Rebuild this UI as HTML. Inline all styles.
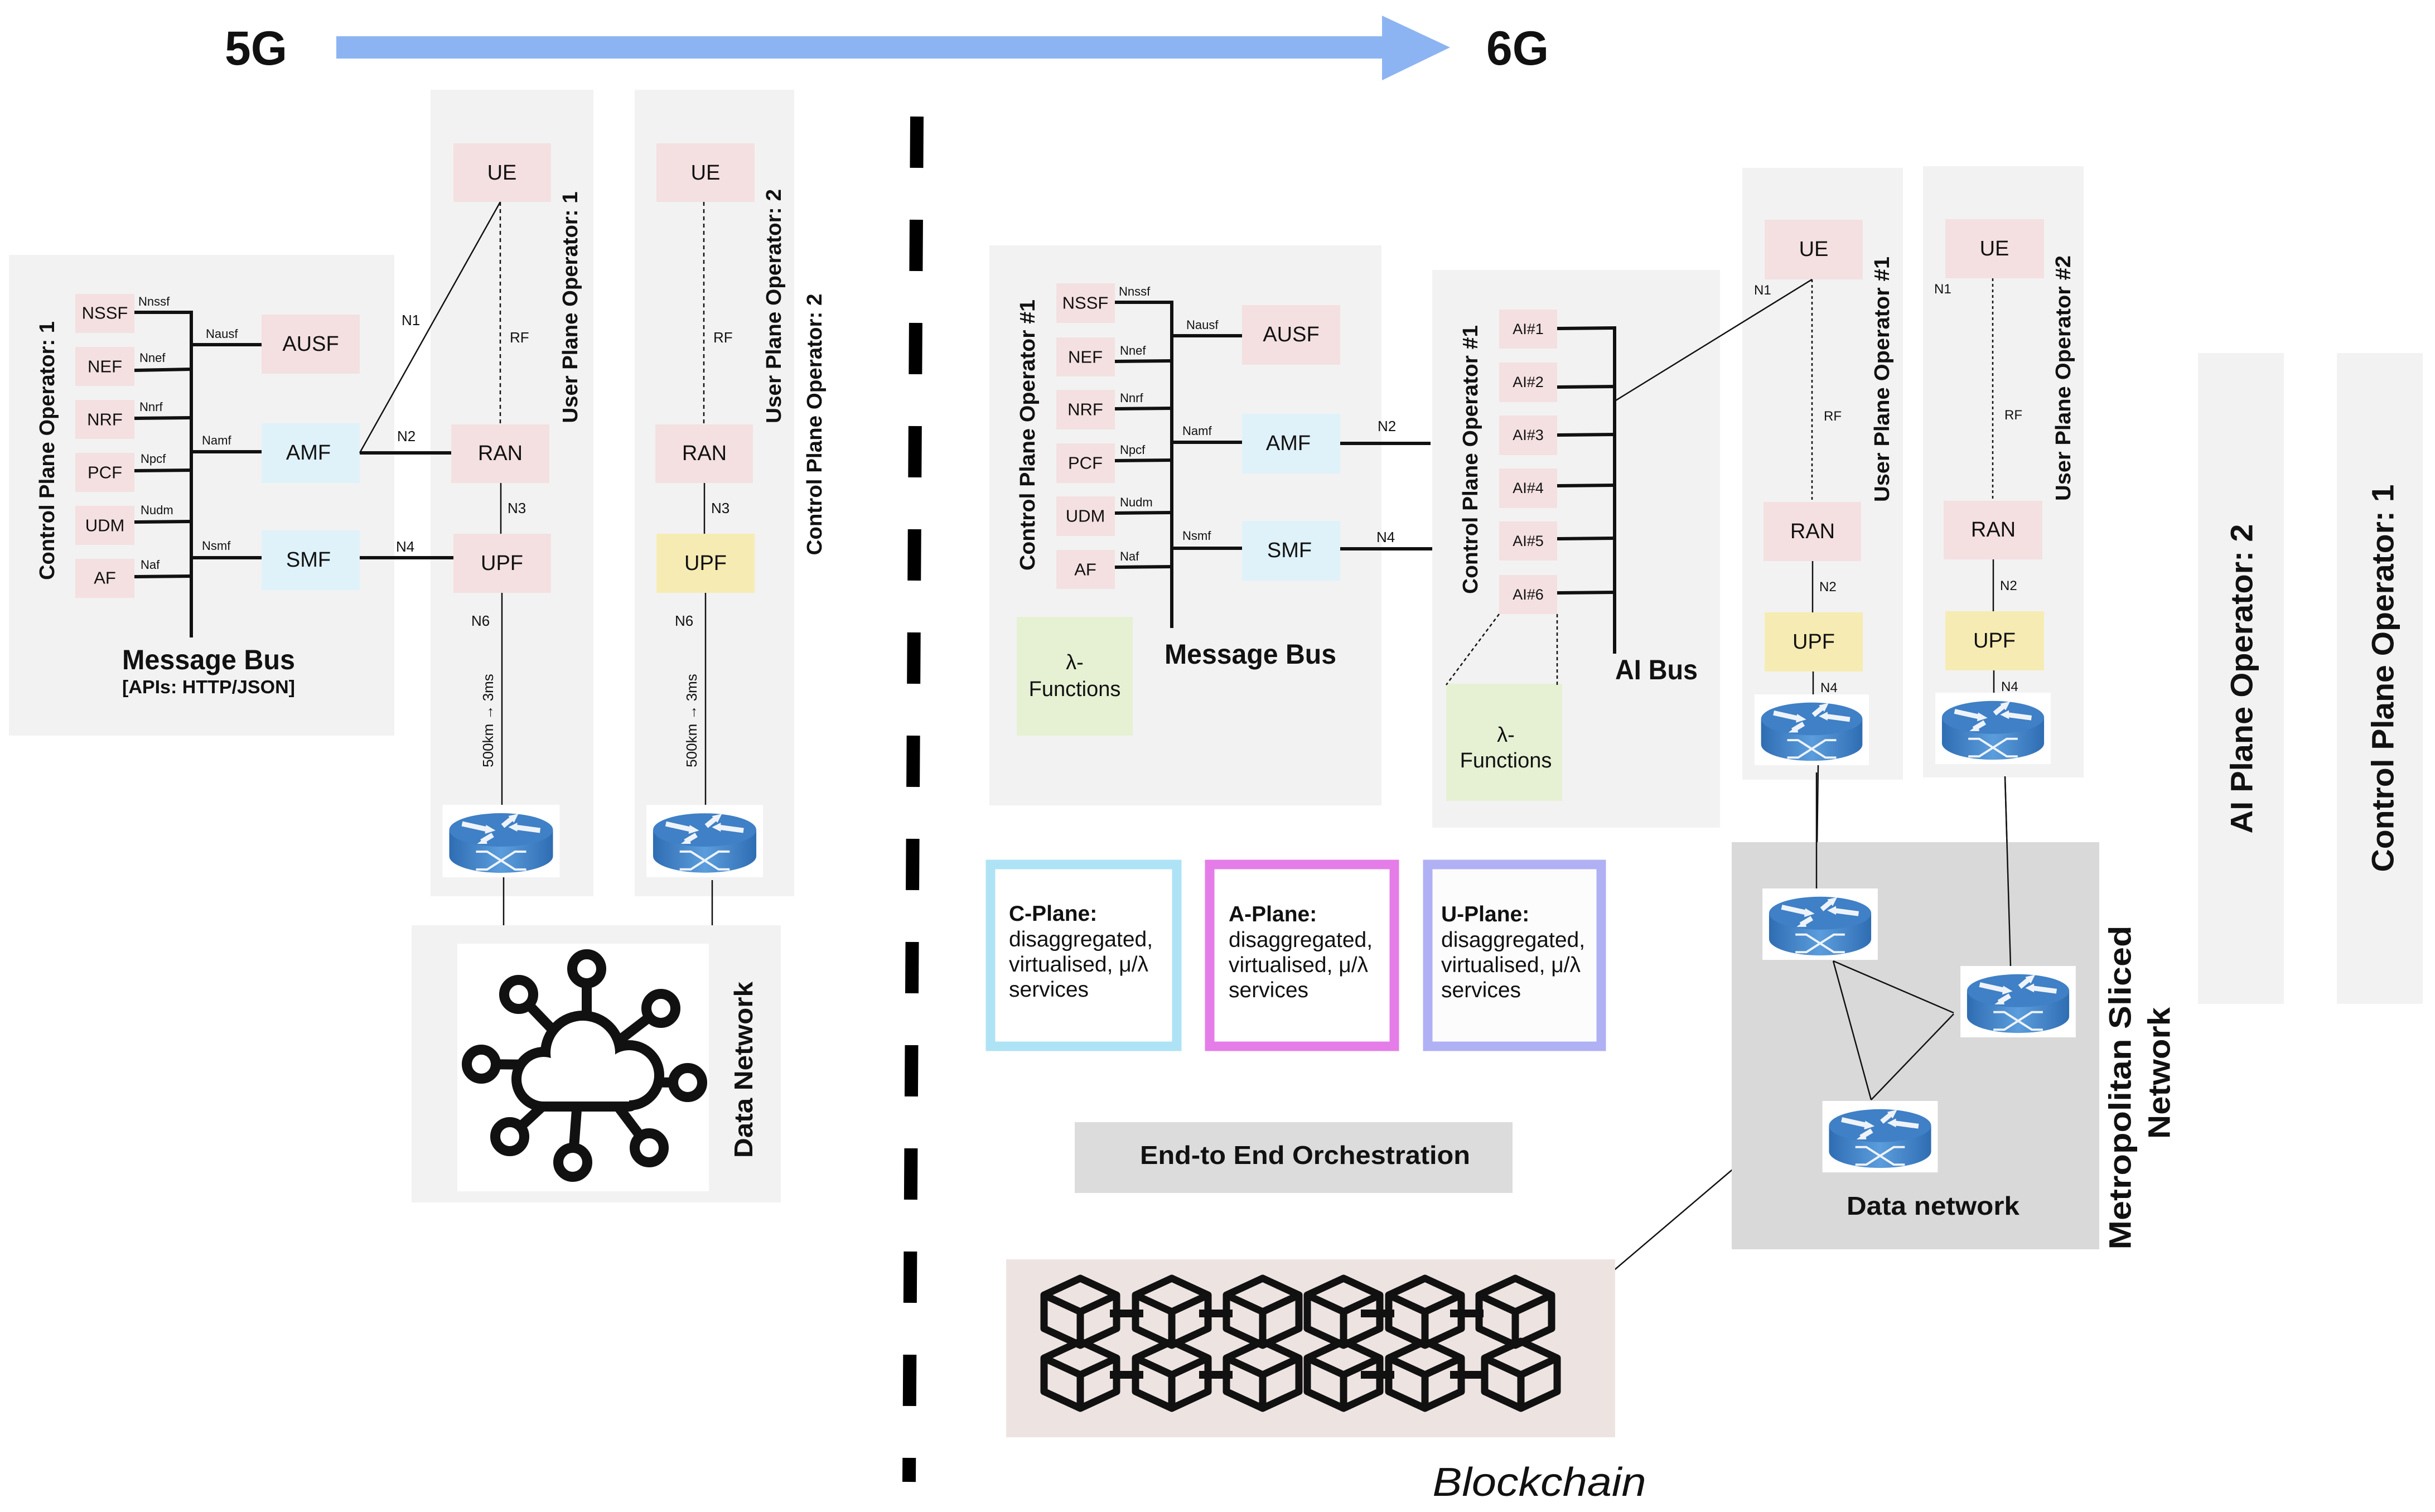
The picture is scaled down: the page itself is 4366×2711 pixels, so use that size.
<!DOCTYPE html>
<html><head><meta charset="utf-8"><style>
html,body{margin:0;padding:0;background:#fff}
svg{display:block}
text{font-family:"Liberation Sans",sans-serif;fill:#111}
.b{font-weight:bold}
</style></head><body>
<svg width="4366" height="2711" viewBox="0 0 4366 2711" xmlns="http://www.w3.org/2000/svg">
<defs>
<linearGradient id="rg" x1="0" x2="1" y1="0" y2="0">
<stop offset="0" stop-color="#2f6db3"/><stop offset="0.5" stop-color="#5b9ddc"/><stop offset="1" stop-color="#2f6db3"/>
</linearGradient>
<symbol id="router" viewBox="0 0 210 130">
<rect x="0" y="0" width="210" height="130" fill="#fff"/>
<path d="M12,45 L12,92 A93,30 0 0 0 198,92 L198,45 Z" fill="url(#rg)"/>
<ellipse cx="105" cy="45" rx="93" ry="30" fill="#3f80c6"/>
<g stroke="#eef3fa" stroke-width="9" stroke-linecap="butt">
<line x1="35" y1="34" x2="80" y2="44"/><line x1="108" y1="38" x2="125" y2="24"/>
<line x1="175" y1="46" x2="130" y2="40"/><line x1="90" y1="54" x2="70" y2="66"/>
</g>
<g fill="#eef3fa">
<polygon points="78,36 95,46 76,52"/><polygon points="118,20 136,16 128,32"/>
<polygon points="134,32 118,40 134,48"/><polygon points="78,58 62,70 80,70"/>
</g>
<g stroke="#eef3fa" stroke-width="4" fill="none">
<path d="M60,84 H80 L130,116 H150"/><path d="M60,116 H80 L130,84 H150"/>
</g>
</symbol>
<symbol id="cube" viewBox="-10 -10 150 140">
<g fill="none" stroke="#111" stroke-width="13" stroke-linejoin="round">
<polygon points="65,0 130,30 130,90 65,120 0,90 0,30"/>
<polyline points="0,30 65,60 130,30"/><line x1="65" y1="60" x2="65" y2="120"/>
</g>
</symbol>
</defs>

<!-- header -->
<text x="403" y="116" class="b" font-size="86" textLength="112" lengthAdjust="spacingAndGlyphs">5G</text>
<rect x="603" y="65" width="1880" height="40" fill="#8db4f2"/>
<polygon points="2478,28 2600,85 2478,144" fill="#8db4f2"/>
<text x="2665" y="116" class="b" font-size="86" textLength="112" lengthAdjust="spacingAndGlyphs">6G</text>

<!-- divider -->
<line x1="1644" y1="209" x2="1630" y2="2657" stroke="#000" stroke-width="24" stroke-dasharray="92 93"/>

<!-- ===== 5G ===== -->
<rect x="16" y="457" width="691" height="862" fill="#f2f2f2"/>
<rect x="772" y="161" width="292" height="1446" fill="#f2f2f2"/>
<rect x="1138" y="161" width="286" height="1446" fill="#f2f2f2"/>
<text transform="translate(85,808) rotate(-90)" text-anchor="middle" dominant-baseline="central" class="b" font-size="38" textLength="464" lengthAdjust="spacingAndGlyphs">Control Plane Operator: 1</text>

<g fill="#f4e0e1">
<rect x="135" y="527" width="106" height="70"/><rect x="135" y="622" width="106" height="70"/>
<rect x="135" y="717" width="106" height="70"/><rect x="135" y="812" width="106" height="70"/>
<rect x="135" y="907" width="106" height="70"/><rect x="135" y="1002" width="106" height="70"/>
<rect x="469" y="564" width="176" height="106"/>
<rect x="813" y="257" width="175" height="105"/><rect x="809" y="761" width="176" height="105"/>
<rect x="813" y="957" width="175" height="106"/>
<rect x="1177" y="257" width="176" height="105"/><rect x="1175" y="761" width="175" height="105"/>
</g>
<rect x="1177" y="957" width="176" height="106" fill="#f6ecb3"/>
<rect x="469" y="759" width="176" height="107" fill="#dff2fa"/>
<rect x="469" y="951" width="176" height="107" fill="#dff2fa"/>
<g font-size="31" text-anchor="middle" dominant-baseline="central">
<text x="188" y="561">NSSF</text><text x="188" y="657">NEF</text><text x="188" y="752">NRF</text>
<text x="188" y="847">PCF</text><text x="188" y="942">UDM</text><text x="188" y="1036">AF</text>
</g>
<g font-size="38" text-anchor="middle" dominant-baseline="central">
<text x="557" y="617">AUSF</text><text x="553" y="812">AMF</text><text x="553" y="1004">SMF</text>
<text x="900" y="310">UE</text><text x="897" y="813">RAN</text><text x="900" y="1010">UPF</text>
<text x="1265" y="310">UE</text><text x="1263" y="813">RAN</text><text x="1265" y="1010">UPF</text>
</g>
<g stroke="#111" stroke-width="6" fill="none">
<line x1="343" y1="557" x2="343" y2="1143"/>
<polyline points="241,560 343,560"/>
<line x1="241" y1="664" x2="343" y2="662"/><line x1="241" y1="750" x2="343" y2="749"/>
<line x1="241" y1="844" x2="343" y2="843"/><line x1="241" y1="936" x2="343" y2="935"/>
<line x1="241" y1="1034" x2="343" y2="1033"/>
<line x1="343" y1="618" x2="469" y2="618"/><line x1="343" y1="810" x2="469" y2="810"/>
<line x1="343" y1="1000" x2="469" y2="1000"/>
<line x1="645" y1="812" x2="809" y2="812"/><line x1="645" y1="1000" x2="813" y2="1000"/>
</g>
<g font-size="22">
<text x="248" y="548">Nnssf</text><text x="250" y="649">Nnef</text><text x="250" y="737">Nnrf</text>
<text x="252" y="830">Npcf</text><text x="252" y="922">Nudm</text><text x="252" y="1020">Naf</text>
<text x="369" y="606">Nausf</text><text x="362" y="797">Namf</text><text x="362" y="986">Nsmf</text>
</g>
<text x="374" y="1200" text-anchor="middle" class="b" font-size="50" textLength="310" lengthAdjust="spacingAndGlyphs">Message Bus</text>
<text x="374" y="1243" text-anchor="middle" class="b" font-size="33" textLength="310" lengthAdjust="spacingAndGlyphs">[APIs: HTTP/JSON]</text>

<g stroke="#111" stroke-width="2.5" fill="none">
<line x1="897" y1="362" x2="645" y2="812"/>
<line x1="897" y1="362" x2="897" y2="761" stroke-dasharray="7 6"/>
<line x1="1262" y1="362" x2="1262" y2="761" stroke-dasharray="7 6"/>
<line x1="898" y1="866" x2="898" y2="957"/><line x1="1263" y1="866" x2="1263" y2="957"/>
<line x1="900" y1="1063" x2="900" y2="1443"/><line x1="1265" y1="1063" x2="1265" y2="1443"/>
<line x1="903" y1="1573" x2="903" y2="1665"/><line x1="1277" y1="1578" x2="1277" y2="1659"/>
</g>
<g font-size="26">
<text x="720" y="583">N1</text><text x="914" y="614">RF</text><text x="1279" y="614">RF</text>
<text x="712" y="791">N2</text><text x="910" y="920">N3</text><text x="1275" y="920">N3</text>
<text x="710" y="989">N4</text><text x="845" y="1122">N6</text><text x="1210" y="1122">N6</text>
</g>
<text transform="translate(875,1292) rotate(-90)" text-anchor="middle" dominant-baseline="central" font-size="26">500km → 3ms</text>
<text transform="translate(1240,1292) rotate(-90)" text-anchor="middle" dominant-baseline="central" font-size="26">500km → 3ms</text>
<text transform="translate(1023,551) rotate(-90)" text-anchor="middle" dominant-baseline="central" class="b" font-size="38" textLength="415" lengthAdjust="spacingAndGlyphs">User Plane Operator: 1</text>
<text transform="translate(1388,549) rotate(-90)" text-anchor="middle" dominant-baseline="central" class="b" font-size="38" textLength="420" lengthAdjust="spacingAndGlyphs">User Plane Operator: 2</text>
<text transform="translate(1461,761) rotate(-90)" text-anchor="middle" dominant-baseline="central" class="b" font-size="38" textLength="469" lengthAdjust="spacingAndGlyphs">Control Plane Operator: 2</text>
<use href="#router" x="793" y="1443" width="211" height="130"/>
<use href="#router" x="1159" y="1443" width="209" height="130"/>

<!-- data network -->
<rect x="738" y="1659" width="662" height="497" fill="#f2f2f2"/>
<rect x="820" y="1692" width="451" height="444" fill="#fff"/>
<g stroke="#111" stroke-width="18" fill="#fff">
<line x1="1052" y1="1910" x2="1052" y2="1737"/><line x1="1052" y1="1910" x2="930" y2="1783"/>
<line x1="1052" y1="1910" x2="863" y2="1908"/><line x1="1052" y1="1910" x2="914" y2="2038"/>
<line x1="1040" y1="1910" x2="1027" y2="2084"/><line x1="1052" y1="1910" x2="1164" y2="2058"/>
<line x1="1052" y1="1940" x2="1233" y2="1941"/><line x1="1052" y1="1910" x2="1185" y2="1808"/>
<circle cx="1052" cy="1737" r="26"/><circle cx="930" cy="1783" r="26"/><circle cx="863" cy="1908" r="26"/>
<circle cx="914" cy="2038" r="26"/><circle cx="1027" cy="2084" r="26"/><circle cx="1164" cy="2058" r="26"/>
<circle cx="1233" cy="1941" r="26"/><circle cx="1185" cy="1808" r="26"/>
</g>
<g fill="#111">
<circle cx="975" cy="1935" r="58"/><circle cx="1045" cy="1888" r="76"/><circle cx="1128" cy="1928" r="63"/>
<rect x="957" y="1902" width="189" height="91" rx="18"/>
</g>
<g fill="#fff">
<circle cx="975" cy="1935" r="40"/><circle cx="1045" cy="1888" r="58"/><circle cx="1128" cy="1928" r="45"/>
<rect x="975" y="1920" width="153" height="55"/>
</g>
<text transform="translate(1333,1918) rotate(-90)" text-anchor="middle" dominant-baseline="central" class="b" font-size="46" textLength="316" lengthAdjust="spacingAndGlyphs">Data Network</text>

<!-- ===== 6G ===== -->
<rect x="1774" y="440" width="703" height="1004" fill="#f2f2f2"/>
<rect x="2568" y="484" width="516" height="1000" fill="#f2f2f2"/>
<rect x="3124" y="301" width="288" height="1097" fill="#f2f2f2"/>
<rect x="3448" y="298" width="288" height="1096" fill="#f2f2f2"/>
<rect x="3941" y="633" width="154" height="1167" fill="#f2f2f2"/>
<rect x="4190" y="633" width="154" height="1167" fill="#f2f2f2"/>
<text transform="translate(1843,780) rotate(-90)" text-anchor="middle" dominant-baseline="central" class="b" font-size="38" textLength="486" lengthAdjust="spacingAndGlyphs">Control Plane Operator  #1</text>
<text transform="translate(2637,824) rotate(-90)" text-anchor="middle" dominant-baseline="central" class="b" font-size="38" textLength="482" lengthAdjust="spacingAndGlyphs">Control Plane Operator  #1</text>

<g fill="#f4e0e1">
<rect x="1894" y="508" width="105" height="71"/><rect x="1894" y="605" width="105" height="70"/>
<rect x="1894" y="699" width="105" height="71"/><rect x="1894" y="795" width="105" height="71"/>
<rect x="1894" y="890" width="105" height="71"/><rect x="1894" y="986" width="105" height="70"/>
<rect x="2227" y="547" width="176" height="107"/>
<rect x="2688" y="555" width="104" height="70"/><rect x="2688" y="650" width="104" height="71"/>
<rect x="2688" y="745" width="104" height="71"/><rect x="2688" y="840" width="104" height="71"/>
<rect x="2688" y="935" width="104" height="70"/><rect x="2688" y="1031" width="104" height="70"/>
<rect x="3164" y="394" width="176" height="107"/><rect x="3162" y="900" width="175" height="106"/>
<rect x="3488" y="393" width="177" height="106"/><rect x="3485" y="898" width="177" height="105"/>
</g>
<rect x="2227" y="742" width="176" height="107" fill="#dff2fa"/>
<rect x="2227" y="934" width="176" height="107" fill="#dff2fa"/>
<rect x="3164" y="1098" width="176" height="106" fill="#f6ecb3"/>
<rect x="3488" y="1096" width="177" height="106" fill="#f6ecb3"/>
<rect x="1823" y="1106" width="208" height="213" fill="#e6f1d4"/>
<rect x="2593" y="1226" width="208" height="210" fill="#e6f1d4"/>
<g font-size="31" text-anchor="middle" dominant-baseline="central">
<text x="1946" y="543">NSSF</text><text x="1946" y="640">NEF</text><text x="1946" y="734">NRF</text>
<text x="1946" y="830">PCF</text><text x="1946" y="925">UDM</text><text x="1946" y="1021">AF</text>
</g>
<g font-size="27" text-anchor="middle" dominant-baseline="central">
<text x="2740" y="590">AI#1</text><text x="2740" y="685">AI#2</text><text x="2740" y="780">AI#3</text>
<text x="2740" y="875">AI#4</text><text x="2740" y="970">AI#5</text><text x="2740" y="1066">AI#6</text>
</g>
<g font-size="38" text-anchor="middle" dominant-baseline="central">
<text x="2315" y="600">AUSF</text><text x="2310" y="795">AMF</text><text x="2312" y="987">SMF</text>
<text x="1927" y="1188">λ-</text><text x="1927" y="1236">Functions</text>
<text x="2700" y="1318">λ-</text><text x="2700" y="1364">Functions</text>
<text x="3252" y="447">UE</text><text x="3250" y="953">RAN</text><text x="3252" y="1151">UPF</text>
<text x="3576" y="446">UE</text><text x="3574" y="950">RAN</text><text x="3576" y="1149">UPF</text>
</g>
<g stroke="#111" stroke-width="6" fill="none">
<line x1="2101" y1="539" x2="2101" y2="1126"/>
<line x1="1999" y1="542" x2="2101" y2="542"/><line x1="1999" y1="648" x2="2101" y2="647"/>
<line x1="1999" y1="733" x2="2101" y2="732"/><line x1="1999" y1="826" x2="2101" y2="825"/>
<line x1="1999" y1="920" x2="2101" y2="919"/><line x1="1999" y1="1017" x2="2101" y2="1016"/>
<line x1="2101" y1="602" x2="2227" y2="602"/><line x1="2101" y1="793" x2="2227" y2="793"/>
<line x1="2101" y1="983" x2="2227" y2="983"/>
<line x1="2403" y1="795" x2="2565" y2="795"/><line x1="2403" y1="984" x2="2568" y2="984"/>
<line x1="2895" y1="585" x2="2895" y2="1172"/>
<line x1="2792" y1="589" x2="2895" y2="588"/><line x1="2792" y1="694" x2="2895" y2="693"/>
<line x1="2792" y1="780" x2="2895" y2="779"/><line x1="2792" y1="871" x2="2895" y2="870"/>
<line x1="2792" y1="966" x2="2895" y2="965"/><line x1="2792" y1="1063" x2="2895" y2="1062"/>
</g>
<g font-size="22">
<text x="2006" y="530">Nnssf</text><text x="2008" y="636">Nnef</text><text x="2008" y="721">Nnrf</text>
<text x="2008" y="814">Npcf</text><text x="2008" y="908">Nudm</text><text x="2008" y="1005">Naf</text>
<text x="2127" y="590">Nausf</text><text x="2120" y="780">Namf</text><text x="2120" y="968">Nsmf</text>
</g>
<g font-size="26"><text x="2470" y="773">N2</text><text x="2468" y="972">N4</text></g>
<text x="2242" y="1190" text-anchor="middle" class="b" font-size="50" textLength="308" lengthAdjust="spacingAndGlyphs">Message Bus</text>
<text x="2896" y="1218" class="b" font-size="50" textLength="148" lengthAdjust="spacingAndGlyphs">AI Bus</text>

<g stroke="#111" stroke-width="2.5" fill="none">
<line x1="2688" y1="1101" x2="2593" y2="1228" stroke-dasharray="6 5"/>
<line x1="2792" y1="1101" x2="2792" y2="1228" stroke-dasharray="6 5"/>
<line x1="2897" y1="718" x2="3249" y2="501"/>
<line x1="3249" y1="501" x2="3249" y2="900" stroke-dasharray="5 5"/>
<line x1="3573" y1="499" x2="3573" y2="898" stroke-dasharray="5 5"/>
<line x1="3250" y1="1006" x2="3250" y2="1098"/><line x1="3574" y1="1003" x2="3574" y2="1096"/>
<line x1="3251" y1="1204" x2="3251" y2="1245"/><line x1="3575" y1="1202" x2="3575" y2="1242"/>
<line x1="3260" y1="1372" x2="3257" y2="1593"/>
<line x1="3595" y1="1392" x2="3605" y2="1732"/>
<line x1="2891" y1="2280" x2="3118" y2="2087"/>
</g>
<g font-size="24">
<text x="3145" y="528">N1</text><text x="3468" y="526">N1</text>
<text x="3270" y="754">RF</text><text x="3594" y="752">RF</text>
<text x="3262" y="1060">N2</text><text x="3586" y="1058">N2</text>
<text x="3264" y="1241">N4</text><text x="3588" y="1239">N4</text>
</g>
<text transform="translate(3375,680) rotate(-90)" text-anchor="middle" dominant-baseline="central" class="b" font-size="38" textLength="440" lengthAdjust="spacingAndGlyphs">User Plane Operator  #1</text>
<text transform="translate(3700,678) rotate(-90)" text-anchor="middle" dominant-baseline="central" class="b" font-size="38" textLength="440" lengthAdjust="spacingAndGlyphs">User Plane Operator  #2</text>
<use href="#router" x="3144" y="1245" width="209" height="127"/>
<use href="#router" x="3469" y="1242" width="209" height="128"/>

<!-- metro -->
<rect x="3105" y="1510" width="659" height="730" fill="#d9d9d9"/>
<g stroke="#111" stroke-width="2.5" fill="none">
<line x1="3257" y1="1385" x2="3257" y2="1593"/>
<line x1="3595" y1="1392" x2="3605" y2="1732"/>
<line x1="3287" y1="1723" x2="3503" y2="1816"/>
<line x1="3287" y1="1723" x2="3355" y2="1972"/>
<line x1="3355" y1="1972" x2="3503" y2="1818"/>
</g>
<use href="#router" x="3159" y="1593" width="209" height="128"/>
<use href="#router" x="3514" y="1732" width="209" height="128"/>
<use href="#router" x="3266" y="1974" width="210" height="128"/>
<text x="3466" y="2178" text-anchor="middle" class="b" font-size="46" textLength="310" lengthAdjust="spacingAndGlyphs">Data network</text>
<text transform="translate(3801,1950) rotate(-90)" text-anchor="middle" dominant-baseline="central" class="b" font-size="56" textLength="581" lengthAdjust="spacingAndGlyphs">Metropolitan Sliced</text>
<text transform="translate(3871,1924) rotate(-90)" text-anchor="middle" dominant-baseline="central" class="b" font-size="56" textLength="236" lengthAdjust="spacingAndGlyphs">Network</text>
<text transform="translate(4019,1217) rotate(-90)" text-anchor="middle" dominant-baseline="central" class="b" font-size="56" textLength="555" lengthAdjust="spacingAndGlyphs">AI Plane Operator: 2</text>
<text transform="translate(4272,1216) rotate(-90)" text-anchor="middle" dominant-baseline="central" class="b" font-size="56" textLength="695" lengthAdjust="spacingAndGlyphs">Control Plane Operator: 1</text>

<!-- planes -->
<rect x="1776" y="1550" width="334" height="326" fill="#fff" stroke="#aee3f5" stroke-width="17"/>
<rect x="2169" y="1550" width="331" height="326" fill="#fff" stroke="#e47de8" stroke-width="17"/>
<rect x="2560" y="1550" width="311" height="326" fill="#fdfcfc" stroke="#b0b0f5" stroke-width="17"/>
<g font-size="39">
<text x="1809" y="1651" class="b">C-Plane:</text>
<text x="1809" y="1697">disaggregated,</text><text x="1809" y="1742">virtualised, μ/λ</text><text x="1809" y="1787">services</text>
<text x="2203" y="1652" class="b">A-Plane:</text>
<text x="2203" y="1698">disaggregated,</text><text x="2203" y="1743">virtualised, μ/λ</text><text x="2203" y="1788">services</text>
<text x="2584" y="1652" class="b">U-Plane:</text>
<text x="2584" y="1698">disaggregated,</text><text x="2584" y="1743">virtualised, μ/λ</text><text x="2584" y="1788">services</text>
</g>
<rect x="1927" y="2012" width="785" height="127" fill="#dcdcdc"/>
<text x="2340" y="2087" text-anchor="middle" class="b" font-size="46" textLength="592" lengthAdjust="spacingAndGlyphs">End-to End Orchestration</text>

<!-- blockchain -->
<rect x="1804" y="2258" width="1092" height="319" fill="#ede4e2"/>
<g stroke="#111" stroke-width="14">
<line x1="1990" y1="2355" x2="2050" y2="2355"/><line x1="2150" y1="2355" x2="2210" y2="2355"/>
<line x1="2440" y1="2355" x2="2500" y2="2355"/><line x1="2600" y1="2355" x2="2660" y2="2355"/>
<line x1="1990" y1="2465" x2="2050" y2="2465"/><line x1="2150" y1="2465" x2="2210" y2="2465"/>
<line x1="2440" y1="2465" x2="2500" y2="2465"/><line x1="2600" y1="2465" x2="2660" y2="2465"/>
</g>
<use href="#cube" x="1862" y="2282" width="150" height="140"/>
<use href="#cube" x="2026" y="2282" width="150" height="140"/>
<use href="#cube" x="2189" y="2282" width="150" height="140"/>
<use href="#cube" x="2334" y="2282" width="150" height="140"/>
<use href="#cube" x="2480" y="2282" width="150" height="140"/>
<use href="#cube" x="2642" y="2282" width="150" height="140"/>
<use href="#cube" x="1862" y="2395" width="150" height="140"/>
<use href="#cube" x="2026" y="2395" width="150" height="140"/>
<use href="#cube" x="2189" y="2395" width="150" height="140"/>
<use href="#cube" x="2334" y="2395" width="150" height="140"/>
<use href="#cube" x="2480" y="2395" width="150" height="140"/>
<use href="#cube" x="2652" y="2395" width="150" height="140"/>
<text x="2760" y="2682" text-anchor="middle" font-style="italic" font-size="72" textLength="383" lengthAdjust="spacingAndGlyphs">Blockchain</text>
</svg>
</body></html>
